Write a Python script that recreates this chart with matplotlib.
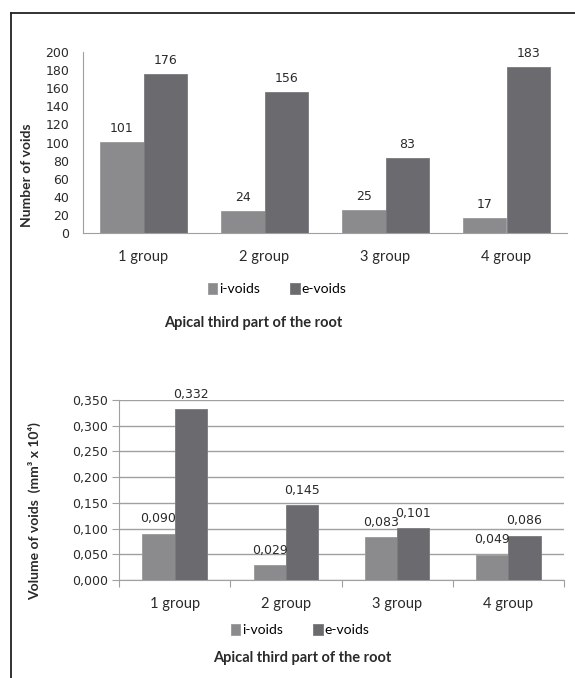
import matplotlib
matplotlib.use("Agg")
import matplotlib.pyplot as plt
import numpy as np
from matplotlib.lines import Line2D

# data
groups = ["1 group", "2 group", "3 group", "4 group"]
series = ["i-voids", "e-voids"]
count_i = [101, 24, 25, 17]
count_e = [176, 156, 83, 183]
volume_i = [0.090, 0.029, 0.083, 0.049]
volume_e = [0.332, 0.145, 0.101, 0.086]
title = "Apical third part of the root"

c_i = "#8b8b8d"
c_e = "#6b6b6f"
axis_grey = "#a0a0a0"
txt = "#2a2a2a"
num_font = "DejaVu Sans"
lab_font = ["Lato", "DejaVu Sans"]

fig = plt.figure(figsize=(5.75, 6.78), dpi=100)

# outer frame (top and left edges only)
fig.add_artist(Line2D([11 / 575, 1.0], [1 - 13 / 678, 1 - 13 / 678],
                      transform=fig.transFigure, color="#222222", lw=1.3))
fig.add_artist(Line2D([11 / 575, 11 / 575], [0.0, 1 - 13 / 678],
                      transform=fig.transFigure, color="#222222", lw=1.3))

x = np.arange(len(groups))


def comma(v):
    return f"{v:.3f}".replace(".", ",")


# ---- top chart: number of voids ----
ax1 = fig.add_axes([83 / 575, 1 - 233 / 678, 484 / 575, 181 / 678])
w1 = 0.36
b1 = ax1.bar(x - w1 / 2, count_i, w1, color=c_i, edgecolor="#9a9a9c", lw=0.6)
b2 = ax1.bar(x + w1 / 2, count_e, w1, color=c_e, edgecolor="#7a7a7e", lw=0.6)
for bars, vals in ((b1, count_i), (b2, count_e)):
    for r, v in zip(bars, vals):
        ax1.annotate(str(v), (r.get_x() + r.get_width() / 2, v), xytext=(0, 5),
                     textcoords="offset points", ha="center", va="bottom",
                     fontsize=9, family=num_font, color=txt)
ax1.set_xlim(-0.5, 3.5)
ax1.set_ylim(0, 200)
ax1.set_yticks(np.arange(0, 201, 20))
ax1.tick_params(axis="y", length=0, labelsize=9, pad=10, labelcolor=txt)
ax1.set_xticks(x)
ax1.set_xticklabels(groups, family=lab_font, fontsize=10.5, color=txt)
ax1.tick_params(axis="x", length=0, pad=12)
for lbl in ax1.get_yticklabels():
    lbl.set_family(num_font)
for s in ("top", "right"):
    ax1.spines[s].set_visible(False)
for s in ("left", "bottom"):
    ax1.spines[s].set_color(axis_grey)
ax1.set_ylabel("Number of voids", family=lab_font, fontsize=10, fontweight="bold",
               color=txt)
ax1.yaxis.set_label_coords(-0.103, 0.32)

fig.legend([b1, b2], series, loc="center", bbox_to_anchor=(277 / 575, 1 - 289 / 678),
           ncol=2, frameon=False, handlelength=0.7, handleheight=0.9, handletextpad=0.1,
           columnspacing=2.2, prop={"family": lab_font, "size": 10})
fig.text(253 / 575, 1 - 323 / 678, title, ha="center", va="center",
         family=lab_font, fontsize=10.5, fontweight="bold", color=txt)

# ---- bottom chart: volume of voids ----
ax2 = fig.add_axes([119 / 575, 1 - 580 / 678, 445 / 575, 180 / 678])
w2 = 0.29
b3 = ax2.bar(x - w2 / 2, volume_i, w2, color=c_i, edgecolor="#9a9a9c", lw=0.6, zorder=3)
b4 = ax2.bar(x + w2 / 2, volume_e, w2, color=c_e, edgecolor="#7a7a7e", lw=0.6, zorder=3)
for bars, vals in ((b3, volume_i), (b4, volume_e)):
    for r, v in zip(bars, vals):
        ax2.annotate(comma(v), (r.get_x() + r.get_width() / 2, v), xytext=(0, 6),
                     textcoords="offset points", ha="center", va="bottom",
                     fontsize=9, family=num_font, color=txt)
ax2.set_xlim(-0.5, 3.5)
ax2.set_ylim(0, 0.35)
yt = np.arange(0, 0.351, 0.05)
ax2.set_yticks(yt)
ax2.set_yticklabels([comma(v) for v in yt], family=num_font, fontsize=9, color=txt)
ax2.tick_params(axis="y", length=5, color=axis_grey, pad=3)
ax2.grid(axis="y", color=axis_grey, lw=1, zorder=0)
ax2.set_xticks(np.arange(-0.5, 3.6, 1.0))
ax2.set_xticklabels([])
ax2.set_xticks(x, minor=True)
ax2.set_xticklabels(groups, minor=True, family=lab_font, fontsize=10.5, color=txt)
ax2.tick_params(axis="x", which="major", length=5, color=axis_grey)
ax2.tick_params(axis="x", which="minor", length=0, pad=12)
for s in ("top", "right"):
    ax2.spines[s].set_visible(False)
for s in ("left", "bottom"):
    ax2.spines[s].set_color(axis_grey)
ax2.set_ylabel("Volume of voids  (mm³ x 10⁴)", family=lab_font, fontsize=10,
               fontweight="bold", color=txt)
ax2.yaxis.set_label_coords(-0.175, 0.383)

fig.legend([b3, b4], series, loc="center", bbox_to_anchor=(300 / 575, 1 - 630 / 678),
           ncol=2, frameon=False, handlelength=0.7, handleheight=0.9, handletextpad=0.1,
           columnspacing=2.2, prop={"family": lab_font, "size": 10})
fig.text(302 / 575, 1 - 658 / 678, title, ha="center", va="center",
         family=lab_font, fontsize=10.5, fontweight="bold", color=txt)

fig.savefig("out.png", dpi=100)
